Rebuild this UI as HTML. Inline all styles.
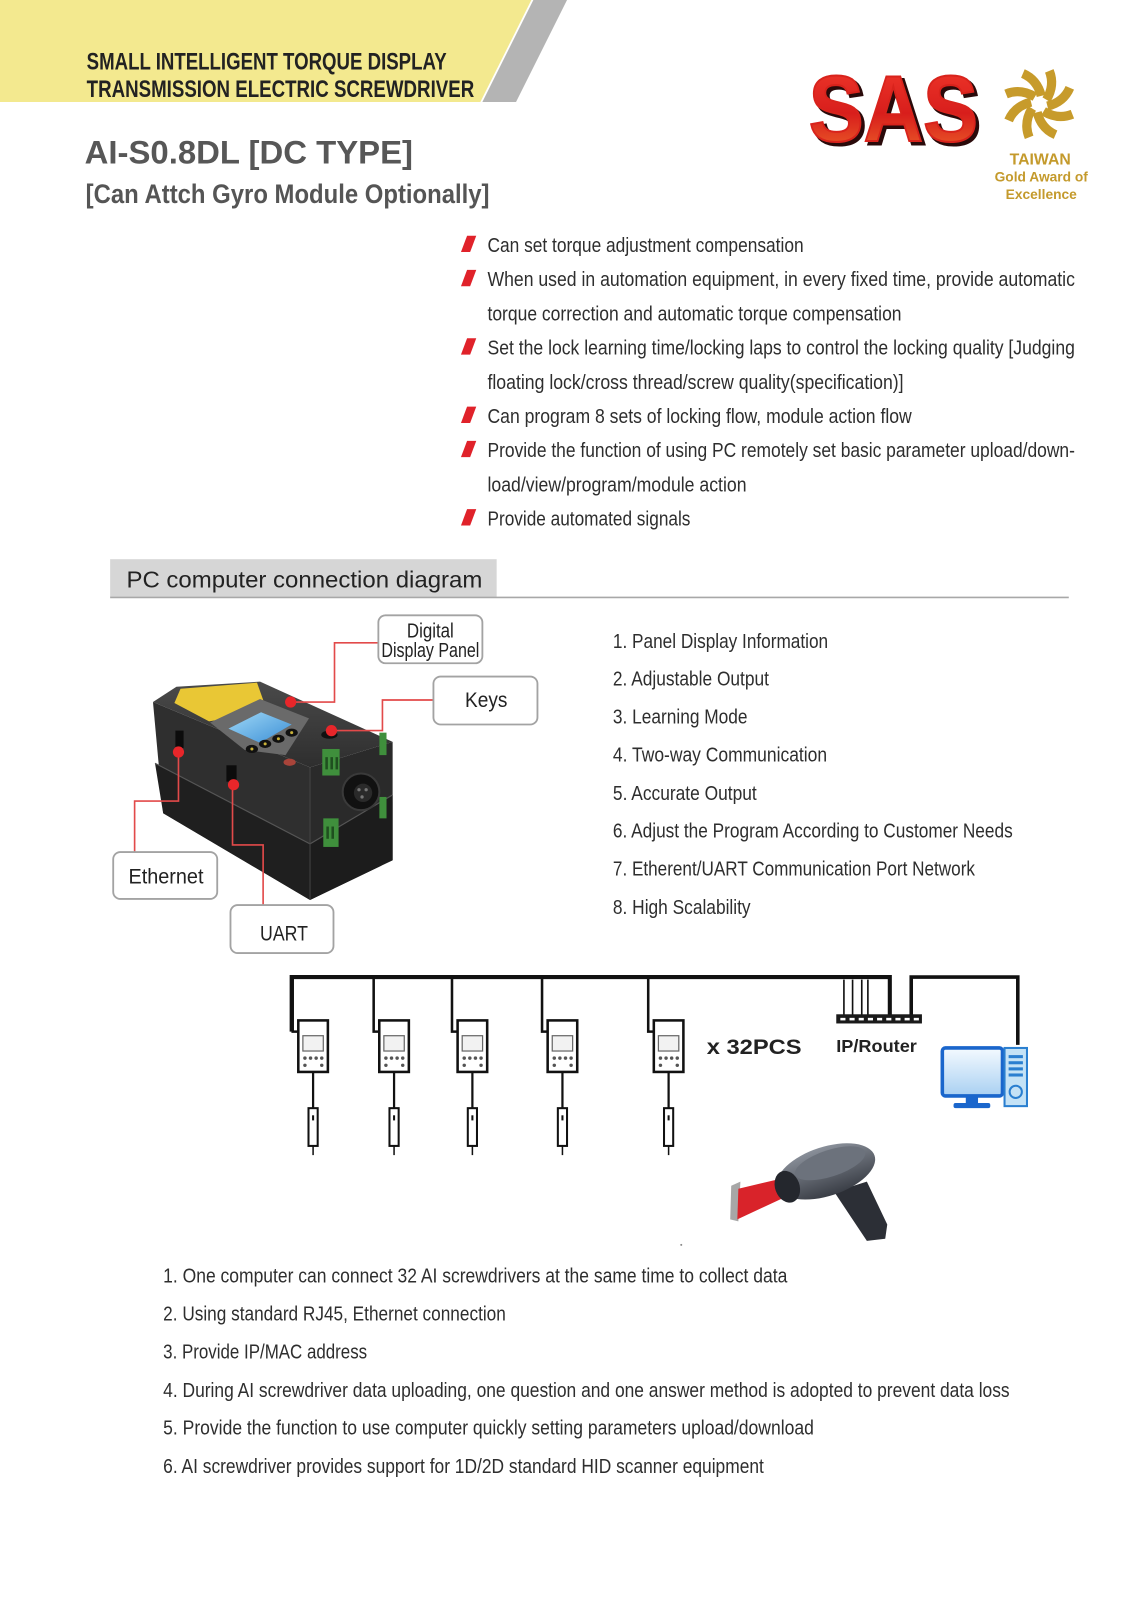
<!DOCTYPE html>
<html><head><meta charset="utf-8"><style>
html,body{margin:0;padding:0;background:#fff;}
svg{display:block;}
text{font-family:"Liberation Sans",Arial,sans-serif;}
</style></head><body>
<svg width="1131" height="1600" viewBox="0 0 1109 1568" preserveAspectRatio="none" xmlns="http://www.w3.org/2000/svg">
<defs>
<linearGradient id="red" x1="0" y1="0" x2="0" y2="1">
<stop offset="0" stop-color="#f23a2c"/><stop offset="0.55" stop-color="#d81e1c"/><stop offset="1" stop-color="#ee6a2a"/>
</linearGradient>
<linearGradient id="scr" x1="0" y1="0" x2="1" y2="1">
<stop offset="0" stop-color="#9fd8f6"/><stop offset="1" stop-color="#3c8fd6"/>
</linearGradient>
<linearGradient id="mon" x1="0" y1="0" x2="0" y2="1">
<stop offset="0" stop-color="#f4faff"/><stop offset="1" stop-color="#a9d0f2"/>
</linearGradient>
<linearGradient id="topf" x1="0" y1="0" x2="0" y2="1">
<stop offset="0" stop-color="#4a4a4a"/><stop offset="1" stop-color="#2e2e2e"/>
</linearGradient>
<linearGradient id="head" x1="0" y1="0" x2="0" y2="1">
<stop offset="0" stop-color="#8a909a"/><stop offset="1" stop-color="#3a3e46"/>
</linearGradient>
</defs>

<!-- header banner -->
<polygon points="0,0 521,0 471,100 0,100" fill="#f3e98f"/>
<polygon points="523,0 556,0 506,100 473,100" fill="#b4b4b4"/>
<text x="85" y="68" font-size="23.5" font-weight="bold" fill="#222" textLength="353" lengthAdjust="spacingAndGlyphs">SMALL INTELLIGENT TORQUE DISPLAY</text>
<text x="85" y="95" font-size="23.5" font-weight="bold" fill="#222" textLength="380" lengthAdjust="spacingAndGlyphs">TRANSMISSION ELECTRIC SCREWDRIVER</text>

<text x="83" y="160" font-size="32" font-weight="bold" fill="#575757" textLength="322" lengthAdjust="spacingAndGlyphs">AI-S0.8DL [DC TYPE]</text>
<text x="84" y="199" font-size="26" font-weight="bold" fill="#555" textLength="396" lengthAdjust="spacingAndGlyphs">[Can Attch Gyro Module Optionally]</text>

<!-- SAS logo -->
<text x="796" y="141" font-size="92" font-weight="bold" fill="#2a0a0a" stroke="#2a0a0a" stroke-width="3" textLength="166" lengthAdjust="spacingAndGlyphs">SAS</text>
<text x="793" y="138" font-size="92" font-weight="bold" fill="url(#red)" stroke="#d8231c" stroke-width="2" textLength="166" lengthAdjust="spacingAndGlyphs">SAS</text>

<!-- award emblem -->
<g transform="translate(1019,102)" fill="none" stroke="#c79b2b" stroke-width="9">
<path d="M -16 -30 Q -2 -24 2 -8" transform="rotate(0)"/>
<path d="M -16 -30 Q -2 -24 2 -8" transform="rotate(45)"/>
<path d="M -16 -30 Q -2 -24 2 -8" transform="rotate(90)"/>
<path d="M -16 -30 Q -2 -24 2 -8" transform="rotate(135)"/>
<path d="M -16 -30 Q -2 -24 2 -8" transform="rotate(180)"/>
<path d="M -16 -30 Q -2 -24 2 -8" transform="rotate(225)"/>
<path d="M -16 -30 Q -2 -24 2 -8" transform="rotate(270)"/>
<path d="M -16 -30 Q -2 -24 2 -8" transform="rotate(315)"/>
</g>
<text x="1020" y="161" font-size="15.5" font-weight="bold" fill="#c49a2c" text-anchor="middle">TAIWAN</text>
<text x="1021" y="178" font-size="13.5" font-weight="bold" fill="#c49a2c" text-anchor="middle">Gold Award of</text>
<text x="1021" y="195" font-size="13.5" font-weight="bold" fill="#c49a2c" text-anchor="middle">Excellence</text>

<!-- bullets -->
<g fill="#e0222a">
<polygon points="458,231 467,231 461,247 452,247"/>
<polygon points="458,264.5 467,264.5 461,280.5 452,280.5"/>
<polygon points="458,331.5 467,331.5 461,347.5 452,347.5"/>
<polygon points="458,398.5 467,398.5 461,414.5 452,414.5"/>
<polygon points="458,432 467,432 461,448 452,448"/>
<polygon points="458,499 467,499 461,515 452,515"/>
</g>
<g font-size="20" fill="#2e2e2e">
<text x="478" y="247" textLength="310" lengthAdjust="spacingAndGlyphs">Can set torque adjustment compensation</text>
<text x="478" y="280.5" textLength="576" lengthAdjust="spacingAndGlyphs">When used in automation equipment, in every fixed time, provide automatic</text>
<text x="478" y="314" textLength="406" lengthAdjust="spacingAndGlyphs">torque correction and automatic torque compensation</text>
<text x="478" y="347.5" textLength="576" lengthAdjust="spacingAndGlyphs">Set the lock learning time/locking laps to control the  locking quality [Judging</text>
<text x="478" y="381" textLength="408" lengthAdjust="spacingAndGlyphs">floating lock/cross thread/screw quality(specification)]</text>
<text x="478" y="414.5" textLength="416" lengthAdjust="spacingAndGlyphs">Can program 8 sets of locking flow, module action flow</text>
<text x="478" y="448" textLength="576" lengthAdjust="spacingAndGlyphs">Provide the function of using PC remotely set basic parameter upload/down-</text>
<text x="478" y="481.5" textLength="254" lengthAdjust="spacingAndGlyphs">load/view/program/module action</text>
<text x="478" y="515" textLength="199" lengthAdjust="spacingAndGlyphs">Provide automated signals</text>
</g>

<!-- section header -->
<rect x="108" y="548" width="379" height="37" fill="#d6d6d6"/>
<line x1="108" y1="585.5" x2="1048" y2="585.5" stroke="#a8a8a8" stroke-width="1.5"/>
<text x="124" y="576" font-size="23" fill="#222" textLength="349" lengthAdjust="spacingAndGlyphs">PC computer connection diagram</text>

<!-- device -->
<g>
<polygon points="150,688 304,752 304,882 160,797" fill="#2f2f2f"/>
<polygon points="152,748 304,827 304,882 160,797" fill="#1f1f1f"/>
<polygon points="304,752 385,727 385,843 304,882" fill="#2a2a2a"/>
<polygon points="304,827 385,779 385,843 304,882" fill="#1c1c1c"/>
<line x1="152" y1="748" x2="304" y2="827" stroke="#555" stroke-width="1.2"/>
<line x1="304" y1="827" x2="385" y2="779" stroke="#555" stroke-width="1.2"/>
<line x1="304" y1="752" x2="304" y2="882" stroke="#444" stroke-width="1"/>
<polygon points="150,688 173,673 255,668 385,727 304,752" fill="url(#topf)"/>
<polygon points="171,689 177,675 252,669 262,697 205,707" fill="#e9c735"/>
<polygon points="206,708 255,685 303,704 280,740 240,735" fill="#6a6a6a"/>
<polygon points="224,714 256,698 286,710 255,728" fill="url(#scr)"/>
<g fill="#111">
<ellipse cx="247" cy="734" rx="6" ry="4"/>
<ellipse cx="260" cy="729" rx="6" ry="4"/>
<ellipse cx="273" cy="724" rx="6" ry="4"/>
<ellipse cx="286" cy="718" rx="6" ry="4"/>
<ellipse cx="323" cy="720" rx="8" ry="4"/>
</g>
<g fill="#c9b23a">
<circle cx="247" cy="734" r="1.5"/><circle cx="260" cy="729" r="1.5"/><circle cx="273" cy="724" r="1.5"/><circle cx="286" cy="718" r="1.5"/>
</g>
<ellipse cx="284" cy="747" rx="6" ry="3.5" fill="#a8443a"/>
<rect x="172" y="716" width="8" height="17" fill="#0c0c0c"/>
<rect x="222" y="750" width="10" height="16" fill="#0c0c0c"/>
<rect x="316" y="734" width="17" height="26" fill="#3f8f3c"/>
<rect x="317" y="802" width="15" height="28" fill="#3f8f3c"/>
<g fill="#1f4f1f"><rect x="319" y="742" width="2.5" height="12"/><rect x="324" y="742" width="2.5" height="12"/><rect x="329" y="742" width="2.5" height="12"/>
<rect x="320" y="810" width="2.5" height="12"/><rect x="325" y="810" width="2.5" height="12"/></g>
<rect x="372" y="718" width="7" height="22" fill="#3f8f3c"/>
<rect x="372" y="781" width="7" height="21" fill="#3f8f3c"/>
<circle cx="354" cy="776" r="18" fill="#111" stroke="#3a3a3a" stroke-width="2"/>
<circle cx="356" cy="777" r="9" fill="#2a2a2a"/>
<g fill="#777"><circle cx="352" cy="774" r="1.6"/><circle cx="359" cy="774" r="1.6"/><circle cx="355" cy="781" r="1.6"/></g>
</g>

<!-- callout lines -->
<g fill="none" stroke="#e24a4a" stroke-width="1.6">
<polyline points="371,630 328,630 328,688 285,688"/>
<polyline points="425,686 375,686 375,716 325,716"/>
<polyline points="132,835 132,785 175,785 175,737"/>
<polyline points="258,887 258,828 228,828 228,769"/>
</g>
<g fill="#e8262a">
<circle cx="285" cy="688" r="5.5"/>
<circle cx="325" cy="716" r="5.5"/>
<circle cx="175" cy="737" r="5.5"/>
<circle cx="229" cy="769" r="5.5"/>
</g>

<!-- callout boxes -->
<g fill="#fff" stroke="#a3a3a3" stroke-width="1.8">
<rect x="371" y="603" width="102" height="47" rx="7"/>
<rect x="425" y="663" width="102" height="47" rx="7"/>
<rect x="111" y="835" width="102" height="46" rx="7"/>
<rect x="226" y="887" width="101" height="47" rx="7"/>
</g>
<g font-size="19.5" fill="#222">
<text x="399" y="625" textLength="46" lengthAdjust="spacingAndGlyphs">Digital</text>
<text x="374" y="644" textLength="96" lengthAdjust="spacingAndGlyphs">Display Panel</text>
<text x="456" y="693" font-size="21" textLength="41.5" lengthAdjust="spacingAndGlyphs">Keys</text>
<text x="126" y="866" font-size="21" textLength="73.5" lengthAdjust="spacingAndGlyphs">Ethernet</text>
<text x="255" y="921.5" font-size="21" textLength="47" lengthAdjust="spacingAndGlyphs">UART</text>
</g>

<!-- features list -->
<g font-size="20" fill="#2e2e2e">
<text x="601" y="635" textLength="211" lengthAdjust="spacingAndGlyphs">1. Panel Display Information</text>
<text x="601" y="672" textLength="153" lengthAdjust="spacingAndGlyphs">2. Adjustable Output</text>
<text x="601" y="709" textLength="132" lengthAdjust="spacingAndGlyphs">3. Learning Mode</text>
<text x="601" y="746.5" textLength="210" lengthAdjust="spacingAndGlyphs">4. Two-way Communication</text>
<text x="601" y="784" textLength="141" lengthAdjust="spacingAndGlyphs">5. Accurate Output</text>
<text x="601" y="821" textLength="392" lengthAdjust="spacingAndGlyphs">6. Adjust the Program According to Customer Needs</text>
<text x="601" y="858" textLength="355" lengthAdjust="spacingAndGlyphs">7. Etherent/UART Communication Port Network</text>
<text x="601" y="895.5" textLength="135" lengthAdjust="spacingAndGlyphs">8. High Scalability</text>
</g>

<!-- network bus -->
<g stroke="#111" fill="none">
<polyline points="286,1011 286,957.5 872.5,957.5 872.5,995" stroke-width="4"/>
<polyline points="893.5,995 893.5,957.5 998,957.5 998,1024" stroke-width="3.5"/>
<g stroke-width="1.6">
<line x1="827.5" y1="960" x2="827.5" y2="995"/>
<line x1="836" y1="960" x2="836" y2="995"/>
<line x1="845" y1="960" x2="845" y2="995"/>
<line x1="851" y1="960" x2="851" y2="995"/>
</g>
</g>
<rect x="820" y="994" width="84" height="9" fill="#1a1a1a"/>
<g fill="#fff">
<rect x="824" y="997.5" width="5" height="2.5"/><rect x="833" y="997.5" width="5" height="2.5"/><rect x="842" y="997.5" width="5" height="2.5"/>
<rect x="851" y="997.5" width="5" height="2.5"/><rect x="860" y="997.5" width="5" height="2.5"/><rect x="869" y="997.5" width="5" height="2.5"/>
<rect x="878" y="997.5" width="5" height="2.5"/><rect x="887" y="997.5" width="5" height="2.5"/><rect x="896" y="997.5" width="5" height="2.5"/>
</g>
<text x="820" y="1031" font-size="17.5" font-weight="bold" fill="#222" textLength="79" lengthAdjust="spacingAndGlyphs">IP/Router</text>
<text x="693" y="1033" font-size="21" font-weight="bold" fill="#222" textLength="93" lengthAdjust="spacingAndGlyphs">x 32PCS</text>

<!-- controllers -->
<g id="ctrls" stroke="#111" fill="none">
<!-- 1 -->
<polyline points="287,957 287,1011 292.5,1011" stroke-width="2.5"/>
<polyline points="366.4,957 366.4,1011 371.9,1011" stroke-width="2.5"/>
<polyline points="443.2,957 443.2,1011 448.7,1011" stroke-width="2.5"/>
<polyline points="531.5,957 531.5,1011 537,1011" stroke-width="2.5"/>
<polyline points="635.6,957 635.6,1011 641.1,1011" stroke-width="2.5"/>
</g>
<g stroke="#111" stroke-width="2.5" fill="#fff">
<rect x="292.5" y="1000" width="29" height="50.5"/>
<rect x="371.9" y="1000" width="29" height="50.5"/>
<rect x="448.7" y="1000" width="29" height="50.5"/>
<rect x="537" y="1000" width="29" height="50.5"/>
<rect x="641.1" y="1000" width="29" height="50.5"/>
</g>
<g stroke="#666" stroke-width="1.2" fill="#f2f2f2">
<rect x="297" y="1015" width="20" height="15"/>
<rect x="376.4" y="1015" width="20" height="15"/>
<rect x="453.2" y="1015" width="20" height="15"/>
<rect x="541.5" y="1015" width="20" height="15"/>
<rect x="645.6" y="1015" width="20" height="15"/>
</g>
<g fill="#555">
<circle cx="299" cy="1037" r="1.7"/><circle cx="304.5" cy="1037" r="1.7"/><circle cx="310" cy="1037" r="1.7"/><circle cx="315.5" cy="1037" r="1.7"/><circle cx="299" cy="1044" r="1.7"/><circle cx="315.5" cy="1044" r="1.7"/>
<circle cx="378.4" cy="1037" r="1.7"/><circle cx="383.9" cy="1037" r="1.7"/><circle cx="389.4" cy="1037" r="1.7"/><circle cx="394.9" cy="1037" r="1.7"/><circle cx="378.4" cy="1044" r="1.7"/><circle cx="394.9" cy="1044" r="1.7"/>
<circle cx="455.2" cy="1037" r="1.7"/><circle cx="460.7" cy="1037" r="1.7"/><circle cx="466.2" cy="1037" r="1.7"/><circle cx="471.7" cy="1037" r="1.7"/><circle cx="455.2" cy="1044" r="1.7"/><circle cx="471.7" cy="1044" r="1.7"/>
<circle cx="543.5" cy="1037" r="1.7"/><circle cx="549" cy="1037" r="1.7"/><circle cx="554.5" cy="1037" r="1.7"/><circle cx="560" cy="1037" r="1.7"/><circle cx="543.5" cy="1044" r="1.7"/><circle cx="560" cy="1044" r="1.7"/>
<circle cx="647.6" cy="1037" r="1.7"/><circle cx="653.1" cy="1037" r="1.7"/><circle cx="658.6" cy="1037" r="1.7"/><circle cx="664.1" cy="1037" r="1.7"/><circle cx="647.6" cy="1044" r="1.7"/><circle cx="664.1" cy="1044" r="1.7"/>
</g>
<!-- cables + probes -->
<g stroke="#111" stroke-width="2.2">
<line x1="307" y1="1051" x2="307" y2="1086"/><line x1="386.4" y1="1051" x2="386.4" y2="1086"/><line x1="463.2" y1="1051" x2="463.2" y2="1086"/><line x1="551.5" y1="1051" x2="551.5" y2="1086"/><line x1="655.6" y1="1051" x2="655.6" y2="1086"/>
</g>
<g stroke="#111" stroke-width="1.5">
<line x1="307" y1="1123" x2="307" y2="1132"/><line x1="386.4" y1="1123" x2="386.4" y2="1132"/><line x1="463.2" y1="1123" x2="463.2" y2="1132"/><line x1="551.5" y1="1123" x2="551.5" y2="1132"/><line x1="655.6" y1="1123" x2="655.6" y2="1132"/>
</g>
<g stroke="#111" stroke-width="2" fill="#fff">
<rect x="302.5" y="1086" width="9" height="37"/>
<rect x="381.9" y="1086" width="9" height="37"/>
<rect x="458.7" y="1086" width="9" height="37"/>
<rect x="547" y="1086" width="9" height="37"/>
<rect x="651.1" y="1086" width="9" height="37"/>
</g>
<g fill="#111">
<rect x="306" y="1093" width="2" height="5"/><rect x="385.4" y="1093" width="2" height="5"/><rect x="462.2" y="1093" width="2" height="5"/><rect x="550.5" y="1093" width="2" height="5"/><rect x="654.6" y="1093" width="2" height="5"/>
</g>

<!-- PC -->
<rect x="924" y="1027" width="59" height="47" rx="3" fill="url(#mon)" stroke="#1a66cc" stroke-width="3.5"/>
<rect x="947" y="1074" width="12" height="8" fill="#1a66cc"/>
<rect x="935" y="1081" width="36" height="5" rx="2" fill="#1a66cc"/>
<rect x="985" y="1027" width="22" height="57" fill="#c4e2f6" stroke="#2a7fd0" stroke-width="2"/>
<g fill="#2a7fd0"><rect x="989" y="1034" width="14" height="3"/><rect x="989" y="1040" width="14" height="3"/><rect x="989" y="1046" width="14" height="3"/><rect x="989" y="1052" width="14" height="3"/></g>
<circle cx="996" cy="1070" r="6" fill="none" stroke="#2a7fd0" stroke-width="2"/>

<!-- scanner -->
<polygon points="717,1162 726,1158 724,1197 716,1195" fill="#a7a7a7"/>
<polygon points="766,1155 768,1174 723,1195 724,1165" fill="#d9232a"/>
<path d="M818,1168 L850,1158 L870,1200 L868,1214 L850,1216 Z" fill="#2c2f36"/>
<ellipse cx="810" cy="1148" rx="50" ry="24" transform="rotate(-18 810 1148)" fill="url(#head)"/>
<ellipse cx="814" cy="1140" rx="36" ry="13" transform="rotate(-18 814 1140)" fill="#6c727c"/>
<ellipse cx="772" cy="1163" rx="12" ry="16" transform="rotate(-20 772 1163)" fill="#24272d"/>
<circle cx="668" cy="1220" r="1" fill="#888"/>

<!-- bottom list -->
<g font-size="20" fill="#2e2e2e">
<text x="160" y="1257" textLength="612" lengthAdjust="spacingAndGlyphs">1. One computer can connect 32 AI screwdrivers at the same time to collect data</text>
<text x="160" y="1294" textLength="336" lengthAdjust="spacingAndGlyphs">2. Using standard RJ45, Ethernet connection</text>
<text x="160" y="1331.5" textLength="200" lengthAdjust="spacingAndGlyphs">3. Provide IP/MAC address</text>
<text x="160" y="1369" textLength="830" lengthAdjust="spacingAndGlyphs">4. During AI screwdriver data uploading, one question and one answer method is adopted to prevent data loss</text>
<text x="160" y="1406" textLength="638" lengthAdjust="spacingAndGlyphs">5. Provide the function to use computer quickly setting parameters upload/download</text>
<text x="160" y="1443.5" textLength="589" lengthAdjust="spacingAndGlyphs">6. AI screwdriver provides support for 1D/2D standard HID scanner equipment</text>
</g>
</svg>
</body></html>
